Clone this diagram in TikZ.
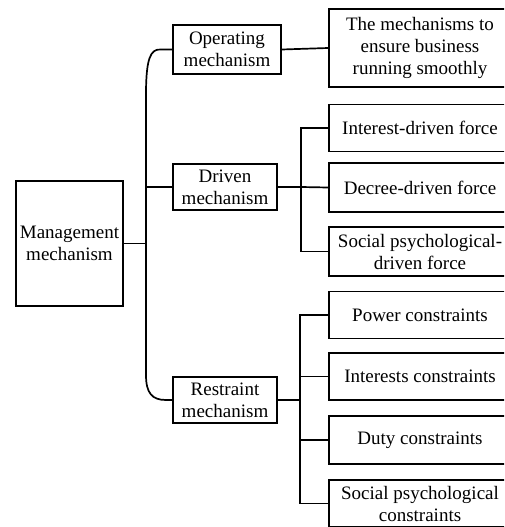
\documentclass[tikz,border=0pt]{standalone}
\usepackage{fontspec}
\setmainfont{Liberation Serif}
\newfontfamily\tnr{Liberation Serif}
\begin{document}
\begin{tikzpicture}[x=1pt,y=-1pt,
  box/.style={draw,line width=1.8pt,rectangle,inner sep=0pt,align=center,
    font=\tnr\fontsize{19}{22}\selectfont},
  wire/.style={line width=1.7pt}]
\useasboundingbox (0,0) rectangle (504,527);
\begin{scope}
\clip (0,0) rectangle (504,527);
% main
\node[box,minimum width=107pt,minimum height=125pt] (mgmt) at (69.5,243.5) {Management\\mechanism};
% level 2
\node[box,minimum width=108pt,minimum height=49pt] (op) at (227,49.5) {Operating\\mechanism};
\node[box,minimum width=104pt,minimum height=46pt] (dr) at (225,187) {Driven\\mechanism};
\node[box,minimum width=104pt,minimum height=46pt] (re) at (225,400) {Restraint\\mechanism};
% level 3
\node[box,minimum width=182pt,minimum height=78pt] (ens) at (420,48) {The mechanisms to\\ensure business\\running smoothly};
\node[box,minimum width=182pt,minimum height=47pt] (int) at (420,128) {Interest-driven force};
\node[box,minimum width=182pt,minimum height=49pt] (dec) at (420,187.5) {Decree-driven force};
\node[box,minimum width=182pt,minimum height=49pt] (soc) at (420,251.5) {Social psychological-\\driven force};
\node[box,minimum width=182pt,minimum height=47pt] (pow) at (420,315) {Power constraints};
\node[box,minimum width=182pt,minimum height=47pt] (ints) at (420,376.5) {Interests constraints};
\node[box,minimum width=182pt,minimum height=48pt] (duty) at (420,440) {Duty constraints};
\node[box,minimum width=182pt,minimum height=47pt] (socc) at (420,503.5) {Social psychological\\constraints};
\end{scope}
% trunk coordinates
\coordinate (jm) at (146,243.5);
\coordinate (jd) at (301,187);
\coordinate (jr) at (300,400);
% main trunk
\draw[wire] (mgmt.east) -- (jm);
\draw[wire] (op.west) -- (161,49.5) .. controls (150,48.5) and (146.5,60) .. (146,90) -- (146,375) .. controls (146,393) and (152,400) .. (166,400) -- (re.west);
\draw[wire] (146,187) -- (dr.west);
% operating
\draw[wire] (op.east) -- (ens.west);
% driven
\draw[wire] (dr.east) -- (jd);
\draw[wire] (int.west) -| (jd |- soc.west) -- (soc.west);
\draw[wire] (jd) -- (dec.west);
% restraint
\draw[wire] (re.east) -- (jr);
\draw[wire] (pow.west) -| (jr |- socc.west) -- (socc.west);
\draw[wire] (jr |- ints.west) -- (ints.west);
\draw[wire] (jr |- duty.west) -- (duty.west);
\end{tikzpicture}
\end{document}
